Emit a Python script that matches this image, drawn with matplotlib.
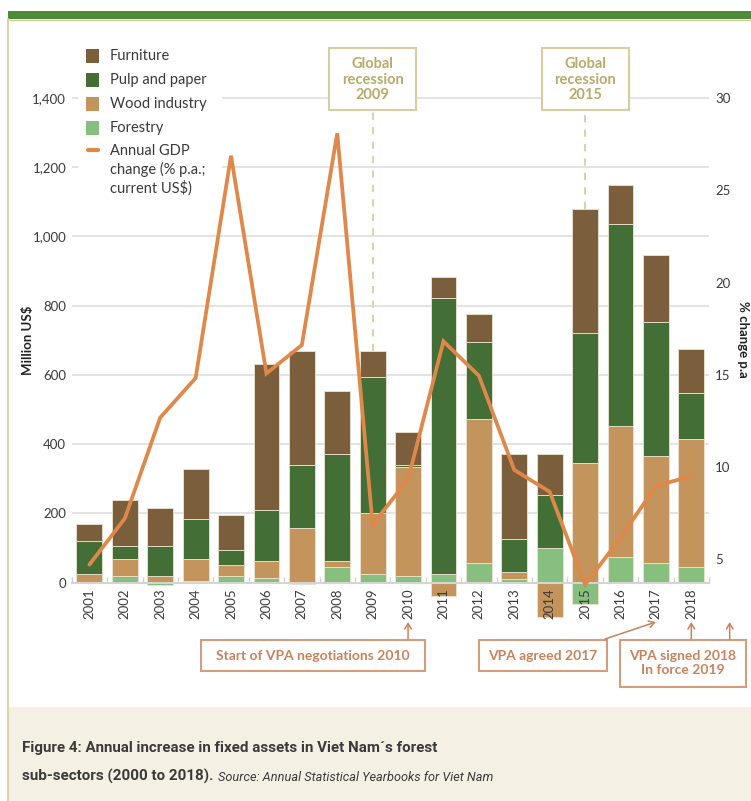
import matplotlib
matplotlib.use("Agg")
import matplotlib.pyplot as plt
from matplotlib.patches import Rectangle, FancyArrowPatch
from matplotlib.lines import Line2D
import numpy as np

# ---------------- data ----------------
years = [str(y) for y in range(2001, 2019)]
forestry = [0, 18, -6, 6, 18, 14, -5, 45, 25, 18, 26, 56, 12, 100, -62, 75, 56, 44]
wood_industry = [25, 51, 19, 63, 33, 50, 158, 18, 176, 317, -38, 417, 19, -98, 347, 379, 310, 372]
pulp_paper = [96, 38, 88, 115, 43, 145, 183, 309, 392, 4, 795, 221, 95, 152, 373, 581, 386, 133]
furniture = [49, 133, 108, 144, 101, 423, 328, 183, 76, 96, 63, 82, 246, 120, 359, 114, 194, 126]
gdp_change = [4.71, 7.21, 12.68, 14.82, 26.87, 15.07, 16.61, 28.09, 6.88, 9.33,
              16.81, 14.95, 9.84, 8.66, 3.63, 6.16, 8.97, 9.51]
left_ticks = [0, 200, 400, 600, 800, 1000, 1200, 1400]
right_ticks = [5, 10, 15, 20, 25, 30]
legend_labels = ["Furniture", "Pulp and paper", "Wood industry", "Forestry",
                 "Annual GDP\nchange (% p.a.;\ncurrent US$)"]
recession_years = ["2009", "2015"]
vpa_texts = ["Start of VPA negotiations 2010", "VPA agreed 2017", "VPA signed 2018\nIn force 2019"]
vpa_years = [[2010], [2017], [2018, 2019]]

# ---------------- style ----------------
C_FURN = "#7b5e3b"
C_PULP = "#436f37"
C_WOOD = "#c3955c"
C_FOR = "#86bf7e"
C_GDP = "#e0874a"
C_GRID = "#e0e0e0"
C_TXT = "#3a3a3a"
C_KHAKI = "#b8aa68"
C_KBOX = "#d6cea2"
C_VPA = "#c8835c"
C_VPABOX = "#d39d7e"
C_BORDER = "#d8cc94"

plt.rcParams["font.family"] = ["Lato", "DejaVu Sans"]
CAP_FONT = ["Liberation Sans Narrow", "Roboto", "DejaVu Sans"]

W, H = 751, 801
fig = plt.figure(figsize=(W / 100, H / 100), dpi=100)
fig.patch.set_facecolor("white")


def fx(x):
    return x / W


def fy(y):
    return 1 - y / H


# ---------------- frame ----------------
fig.add_artist(Rectangle((fx(8), fy(801)), 1 - fx(8), (801 - 707) / H, transform=fig.transFigure,
                         facecolor="#f4f0e4", edgecolor="none", zorder=0))
fig.add_artist(Rectangle((fx(8), fy(19)), 1 - fx(8), 8 / H, transform=fig.transFigure,
                         facecolor="#4b8a36", edgecolor="none", zorder=0))
fig.add_artist(Line2D([fx(8), 1], [fy(19.8), fy(19.8)], transform=fig.transFigure,
                      color=C_BORDER, lw=1.0, zorder=0))
fig.add_artist(Line2D([fx(7.5), fx(7.5)], [fy(19), fy(801)], transform=fig.transFigure,
                      color=C_BORDER, lw=1.2, zorder=0))

# ---------------- axes ----------------
ZERO_PX = 582.7
SCALE = 484.7 / 1400.0
AX_L, AX_R, AX_T, AX_B = 71.7, 709.0, 90.0, 624.3
n = len(years)

ax = fig.add_axes([fx(AX_L), fy(AX_B), (AX_R - AX_L) / W, (AX_B - AX_T) / H])
ax.set_facecolor("none")
ax.set_xlim(-0.5, n - 0.5)
ax.set_ylim((ZERO_PX - AX_B) / SCALE, (ZERO_PX - AX_T) / SCALE)


def rv(p):
    return 30 - (p - 98.0) / 18.45


def bar_px(i):
    return AX_L + (i + 0.5) * (AX_R - AX_L) / n


x = np.arange(n)
pos = np.zeros(n)
neg = np.zeros(n)
for vals, col in [(forestry, C_FOR), (wood_industry, C_WOOD), (pulp_paper, C_PULP), (furniture, C_FURN)]:
    v = np.array(vals, dtype=float)
    bottom = np.where(v >= 0, pos, neg)
    ax.bar(x, v, 0.73, bottom=bottom, color=col, edgecolor="#ece4d2", linewidth=0.6, zorder=1)
    pos += np.where(v >= 0, v, 0)
    neg += np.where(v < 0, v, 0)

for t in left_ticks[1:]:
    ax.axhline(t, color=C_GRID, lw=1.3, zorder=0.5)

ax.set_yticks(left_ticks)
ax.set_yticklabels([f"{t:,}" for t in left_ticks])
ax.tick_params(axis="y", length=0, pad=4, labelsize=9.5, labelcolor=C_TXT)
ax.set_xticks(x)
ax.set_xticklabels(years)
ax.tick_params(axis="x", which="major", length=0, pad=4, labelsize=9.5, labelcolor=C_TXT,
               labelrotation=90)
ax.set_xticks(np.arange(-0.5, n), minor=True)
ax.tick_params(axis="x", which="minor", direction="in", length=4, color="#d0d0d0", width=1)
for s in ["top", "right", "left"]:
    ax.spines[s].set_visible(False)
ax.spines["bottom"].set_position(("data", 0))
ax.spines["bottom"].set_color("#d4d4d4")
ax.spines["bottom"].set_linewidth(1.5)

# recession markers
for yr in recession_years:
    i = years.index(yr)
    ax.plot([i, i], [pos[i], (ZERO_PX - 112) / SCALE], ls=(0, (4, 4)), color=C_KBOX, lw=1.3, zorder=0.8)
    cx = bar_px(i)
    fig.add_artist(Rectangle((fx(cx - 43.5), fy(110)), 87 / W, 62 / H, transform=fig.transFigure,
                             facecolor="white", edgecolor=C_KBOX, lw=1.5, zorder=2))
    fig.text(fx(cx), fy(79.5), "Global\nrecession\n" + yr, ha="center", va="center", fontsize=10.5,
             fontweight="bold", color=C_KHAKI, linespacing=1.1, zorder=3)

# GDP line
ax2 = ax.twinx()
ax2.set_ylim(rv(AX_B), rv(AX_T))
ax2.plot(x, gdp_change, color=C_GDP, lw=2.7, solid_capstyle="round", solid_joinstyle="miter", zorder=3)
ax2.set_yticks(right_ticks)
ax2.tick_params(axis="y", length=0, pad=4.5, labelsize=9.5, labelcolor=C_TXT)
for s in ax2.spines.values():
    s.set_visible(False)

# axis titles
fig.text(fx(28), fy(340), "Million US$", rotation=90, ha="center", va="center",
         fontsize=9.5, fontweight="bold", color="#222222")
fig.text(fx(743), fy(339), "% change p.a", rotation=-90, ha="center", va="center",
         fontsize=9.5, fontweight="bold", color="#222222")

# ---------------- legend ----------------
fig.add_artist(Rectangle((fx(78), fy(198)), (222 - 78) / W, (198 - 42) / H, transform=fig.transFigure,
                         facecolor="white", edgecolor="none", zorder=1))
for lab, col, cy in zip(legend_labels[:4], [C_FURN, C_PULP, C_WOOD, C_FOR], [56, 80, 104, 128]):
    fig.add_artist(Rectangle((fx(86), fy(cy + 6.5)), 13 / W, 13 / H, transform=fig.transFigure,
                             facecolor=col, edgecolor="none", zorder=2))
    fig.text(fx(110), fy(cy), lab, ha="left", va="center", fontsize=10.5, color=C_TXT, zorder=3)
fig.add_artist(Line2D([fx(87.5), fx(97.5)], [fy(150), fy(150)], transform=fig.transFigure,
                      color=C_GDP, lw=3, solid_capstyle="round", zorder=2))
fig.text(fx(110), fy(170), legend_labels[4], ha="left", va="center", fontsize=10.5, color=C_TXT,
         linespacing=1.3, zorder=3)

# ---------------- VPA notes ----------------
boxes = [(201, 640, 425, 671), (479, 640, 607, 671), (620, 640, 746, 687)]
for txt, yrs, (x0, y0, x1, y1) in zip(vpa_texts, vpa_years, boxes):
    fig.add_artist(Rectangle((fx(x0), fy(y1)), (x1 - x0) / W, (y1 - y0) / H, transform=fig.transFigure,
                             facecolor="white", edgecolor=C_VPABOX, lw=1.5, zorder=2))
    fig.text(fx((x0 + x1) / 2), fy((y0 + y1) / 2), txt, ha="center", va="center", fontsize=10,
             fontweight="bold", color=C_VPA, linespacing=1.2, zorder=3)
    for yv in yrs:
        tx = bar_px(yv - 2001) if yv <= 2018 else bar_px(yv - 2001) + 3
        sx = tx if x0 <= tx <= x1 else x1 - 2
        arr = FancyArrowPatch((fx(sx), fy(y0 - 1)), (fx(tx), fy(622)), transform=fig.transFigure,
                              arrowstyle="->,head_length=0.5,head_width=0.3", mutation_scale=8,
                              color=C_VPA, lw=1.1, shrinkA=0, shrinkB=0, zorder=3)
        fig.add_artist(arr)

# ---------------- caption ----------------
t1 = fig.text(fx(22), fy(752), "Figure 4: Annual increase in fixed assets in Viet Nam\u00b4s forest",
              family=CAP_FONT, fontsize=10.9, fontweight="bold", color=C_TXT, va="baseline")
t2 = fig.text(fx(22), fy(781), "sub-sectors (2000 to 2018).",
              family=CAP_FONT, fontsize=10.9, fontweight="bold", color=C_TXT, va="baseline")
fig.canvas.draw()
bb = t2.get_window_extent()
fig.text((bb.x1 + 5) / W, fy(781), "Source: Annual Statistical Yearbooks for Viet Nam",
         family=CAP_FONT, fontsize=9.2, style="italic", color=C_TXT, va="baseline")

fig.savefig("out.png", dpi=100)
